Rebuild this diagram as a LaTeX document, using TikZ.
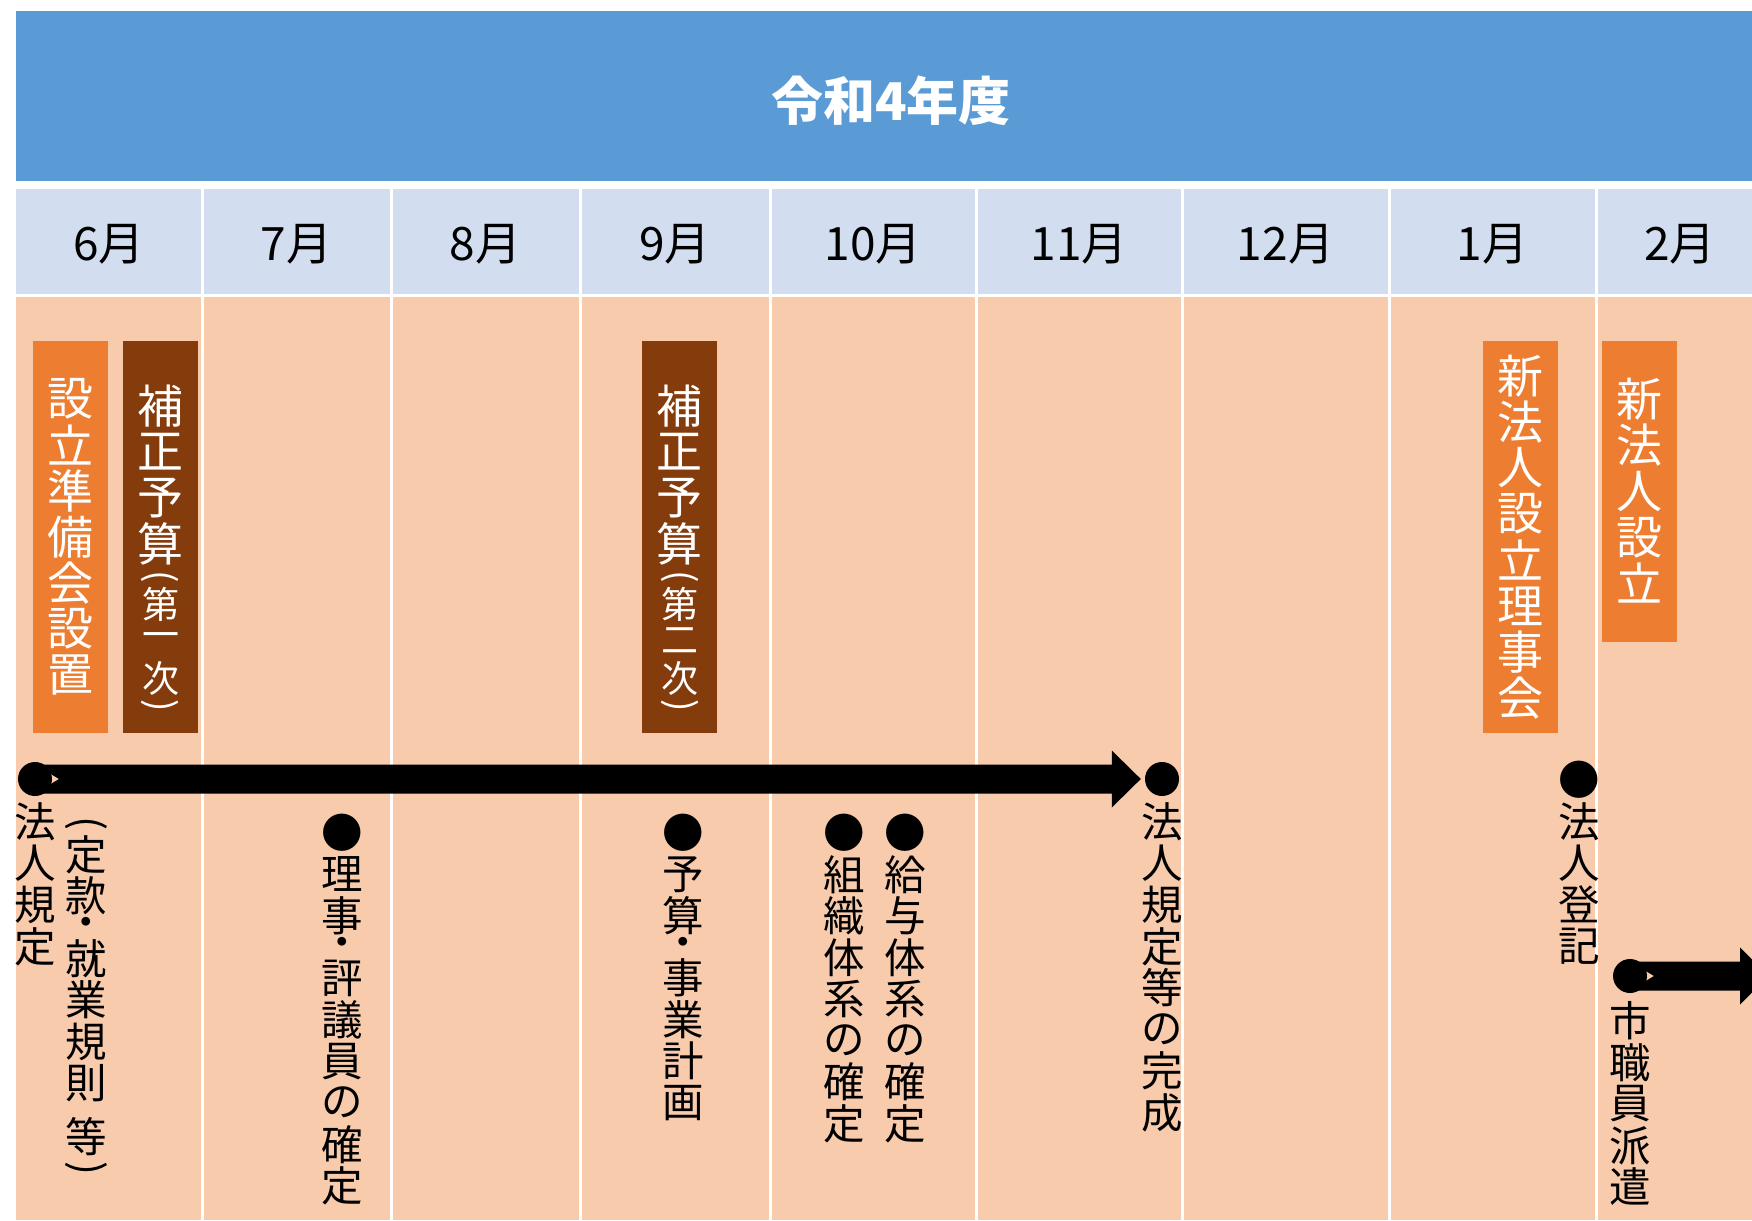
\documentclass[tikz,border=0pt]{standalone}
\usepackage{fontspec}
\usepackage{graphicx}
\setmainfont{Noto Sans CJK JP}
\usetikzlibrary{calc}
\XeTeXuseglyphmetrics=1
\definecolor{hdrblue}{HTML}{5B9BD5}
\definecolor{monthbg}{HTML}{D2DEEF}
\definecolor{bodybg}{HTML}{F8CBAD}
\definecolor{evorange}{HTML}{ED7D31}
\definecolor{evbrown}{HTML}{843C0C}
\pgfdeclarelayer{cells}\pgfdeclarelayer{arrows}\pgfsetlayers{cells,arrows,main}
% vertical text helpers
\newcommand\vF[1]{\hbox to 0pt{\hss\vbox to 1em{\vss\hbox{#1}\vss}\hss}}
\newcommand\vP[2]{\hbox to 0pt{\hss\vbox to #1em{\vss\hbox{#2}\vss}\hss}}
\makeatletter
\def\vtx#1{\vtx@loop#1\vtx@end}
\def\vtx@end{\vtx@end}
\def\vtx@loop#1{\ifx#1\vtx@end\else\vtx@one{#1}\expandafter\vtx@loop\fi}
\def\vtx@one#1{\if・#1\vP{.5}{#1}\else\if︵#1\vP{.5}{\rotatebox{-90}{(}}\else\if︶#1\vP{.5}{\rotatebox{-90}{)}}\else\if*#1\vP{.3}{}\else\vF{#1}\fi\fi\fi\fi}
\makeatother
\newcommand\vt[1]{\vbox{\offinterlineskip\vtx{#1}}}
\newcommand\fatarrow[2]{\fill[black] ($(#1)+(0,-14.5)$) -- ($(#2)+(-29,-14.5)$) -- ($(#2)+(-29,-28.5)$) -- (#2) -- ($(#2)+(-29,28.5)$) -- ($(#2)+(-29,14.5)$) -- ($(#1)+(0,14.5)$) -- ($(#1)+(24,0)$) -- cycle;}
\tikzset{
  cellline/.style={white, line width=3pt},
  vlabel/.style={inner sep=0pt, anchor=north, font=\fontsize{41.5}{41.5}\selectfont, text=black},
  evbox/.style={minimum width=75pt, inner sep=0pt},
  boxtext/.style={inner sep=0pt, text=white, font=\fontsize{46}{46}\selectfont},
  dotnode/.style={circle, fill=black, minimum size=34pt, inner sep=0pt},
  month/.style={font=\fontsize{46}{46}\selectfont, inner sep=0pt, text=black},
}
\begin{document}
\begin{tikzpicture}[x=1pt,y=-1pt]
\useasboundingbox (0,0) rectangle (1752,1220);
\begin{pgfonlayer}{cells}
\fill[white] (0,0) rectangle (1752,1220);
\fill[hdrblue] (16,11) rectangle (1752,181);
\fill[monthbg] (16,189) rectangle (1752,294);
\fill[bodybg] (16,297) rectangle (1752,1220);
\foreach \x in {202,391,580,770,976,1182,1389,1596} \draw[cellline] (\x,189) -- (\x,1220);
\end{pgfonlayer}
% title and months
\node[font=\bfseries\fontsize{52}{52}\selectfont, text=white] (title) at (891,101) {令和4年度};
\node[month] (m6) at (109,244) {6月};
\node[month] (m7) at (296.5,244) {7月};
\node[month] (m8) at (485.5,244) {8月};
\node[month] (m9) at (675,244) {9月};
\node[month] (m10) at (873,244) {10月};
\node[month] (m11) at (1079,244) {11月};
\node[month] (m12) at (1285.5,244) {12月};
\node[month] (m1) at (1492.5,244) {1月};
\node[month] (m2) at (1680,244) {2月};
% event boxes
\node[evbox, fill=evorange, minimum height=392pt] (b1) at (70,537) {};
\node[boxtext] (t1) at (b1.center) {\vt{設立準備会設置}};
\node[evbox, fill=evbrown, minimum height=392pt] (b2) at (160.5,537) {};
\node[boxtext] (t2) at ([yshift=-12pt]b2.center) {\vbox{\offinterlineskip\vtx{補正予算}\fontsize{37}{37}\selectfont\vtx{︵第一次︶}}};
\node[evbox, fill=evbrown, minimum height=392pt] (b3) at (679.5,537) {};
\node[boxtext] (t3) at ([yshift=-12pt]b3.center) {\vbox{\offinterlineskip\vtx{補正予算}\fontsize{37}{37}\selectfont\vtx{︵第二次︶}}};
\node[evbox, fill=evorange, minimum height=392pt] (b4) at (1520.5,537) {};
\node[boxtext] (t4) at (b4.center) {\vt{新法人設立理事会}};
\node[evbox, fill=evorange, minimum height=301pt] (b5) at (1639,491.5) {};
\node[boxtext] (t5) at (b5.center) {\vt{新法人設立}};
% timeline dots
\node[dotnode] (d1) at (35,779) {};
\node[dotnode] (d2) at (1162,779) {};
\node[dotnode] (d3) at (1630,976) {};
\coordinate (tip1) at ($(d2.west)+(-4,0)$);
\coordinate (tip2) at ($(d3.center)+(139,0)$);
\begin{pgfonlayer}{arrows}
\fatarrow{d1.center}{tip1}
\fatarrow{d3.center}{tip2}
\end{pgfonlayer}
% labels
\node[vlabel] (l1) at (35,801) {\vt{法人規定}};
\node[vlabel] (l2) at (86,813) {\vt{︵定款・就業規則*等︶}};
\node[vlabel] (l3) at (342,812) {\vt{●理事・評議員の確定}};
\node[vlabel] (l4) at (683,812) {\vt{●予算・事業計画}};
\node[vlabel] (l5) at (844,812) {\vt{●組織体系の確定}};
\node[vlabel] (l6) at (905,812) {\vt{●給与体系の確定}};
\node[vlabel] (l7) at (1162,801) {\vt{法人規定等の完成}};
\node[vlabel] (l8) at (1579,759) {\vt{●法人登記}};
\node[vlabel] (l9) at (1630,1000) {\vt{市職員派遣}};
\end{tikzpicture}
\end{document}
